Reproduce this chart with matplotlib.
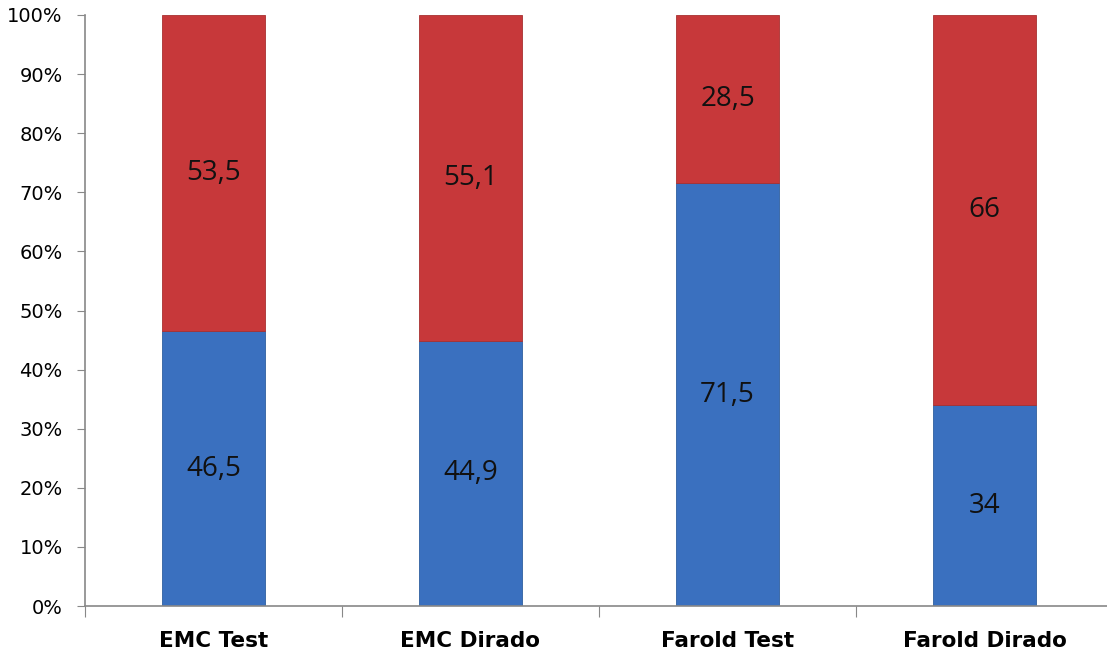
import matplotlib
matplotlib.use("Agg")
import matplotlib.pyplot as plt
from matplotlib.ticker import FixedLocator, PercentFormatter

categories = ["EMC Test", "EMC Dirado", "Farold Test", "Farold Dirado"]
blue_values = [46.5, 44.9, 71.5, 34]
red_values = [53.5, 55.1, 28.5, 66]
blue_labels = ["46,5", "44,9", "71,5", "34"]
red_labels = ["53,5", "55,1", "28,5", "66"]

fig = plt.figure(figsize=(11.07, 6.57), dpi=100)
ax = fig.add_axes([85 / 1107, 51 / 657, 1028 / 1107, 591 / 657])

x = range(len(categories))
width = 0.4
blue_color = "#3a70bf"
red_color = "#c7383a"

ax.bar(x, blue_values, width, color=blue_color, edgecolor="#2f5f9f", linewidth=0.6)
ax.bar(x, red_values, width, bottom=blue_values, color=red_color,
       edgecolor="#a83030", linewidth=0.6)

for i in x:
    ax.text(i, blue_values[i] / 2, blue_labels[i], ha="center", va="center",
            fontsize=20, color="#111111", family="Open Sans")
    ax.text(i, blue_values[i] + red_values[i] / 2, red_labels[i], ha="center",
            va="center", fontsize=20, color="#111111", family="Open Sans")

ax.set_xlim(-0.5, 3.5)
ax.set_ylim(0, 100)
ax.yaxis.set_major_locator(FixedLocator(range(0, 101, 10)))
ax.yaxis.set_major_formatter(PercentFormatter(decimals=0))

ax.set_xticks([i + 0.5 for i in range(-1, 4)])
ax.set_xticklabels([])
ax.set_xticks(list(x), minor=True)
ax.set_xticklabels(categories, minor=True, fontsize=15.5, fontweight="bold")
ax.tick_params(axis="x", which="minor", length=0, pad=18)
ax.tick_params(axis="x", which="major", length=8, color="#888888", direction="out")
ax.tick_params(axis="y", length=6, color="#888888", labelsize=14, pad=10)

for s in ["top", "right"]:
    ax.spines[s].set_visible(False)
for s in ["left", "bottom"]:
    ax.spines[s].set_color("#888888")
    ax.spines[s].set_linewidth(1.2)

fig.savefig("out.png", dpi=100)
